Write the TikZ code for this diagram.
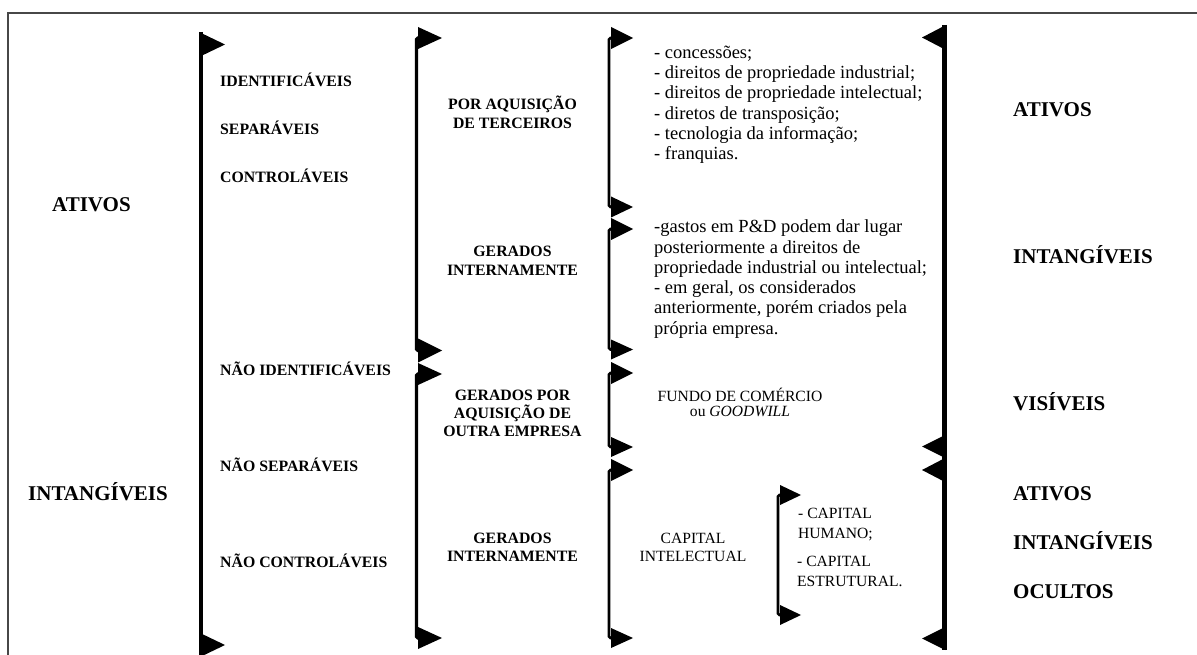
\documentclass[tikz,border=0pt]{standalone}
\usepackage{fontspec}
\setmainfont{Liberation Serif}
% stacked lines: first line's baseline is the box baseline
\newcommand\ctrlines[1]{\vtop{\halign{\hfil##\hfil\cr#1\crcr}}}
\newcommand\leftlines[1]{\vtop{\halign{##\hfil\cr#1\crcr}}}
% flag-shaped arrowheads: base x, tip y, length, half height
\newcommand\flagR[4]{\fill (#1,{#2-#4}) -- ({#1+#3},#2) -- (#1,{#2+#4}) -- cycle;}
\newcommand\flagL[4]{\fill (#1,{#2-#4}) -- ({#1-#3},#2) -- (#1,{#2+#4}) -- cycle;}
\begin{document}
\begin{tikzpicture}[x=1pt,y=-1pt,
  frame/.style={line width=1.6pt, draw=black!72},
  big/.style={inner sep=0pt, anchor=base west, font=\bfseries\fontsize{21}{24}\selectfont},
  crit/.style={inner sep=0pt, anchor=base west, font=\bfseries\fontsize{15.8}{18}\selectfont},
  origin/.style={inner sep=0pt, anchor=base, font=\bfseries\fontsize{15.8}{18.3}\selectfont},
  item/.style={inner sep=0pt, anchor=base west, font=\fontsize{18.5}{20.25}\selectfont},
  smallc/.style={inner sep=0pt, anchor=base, font=\fontsize{15.6}{15}\selectfont},
  smalll/.style={inner sep=0pt, anchor=base west, font=\fontsize{15.6}{20}\selectfont},
  thickbar/.style={line width=4.6pt},
  midbar/.style={line width=3.3pt, rounded corners=1.5pt},
  thinbar/.style={line width=2.6pt, rounded corners=1.5pt}]
\useasboundingbox (0,0) rectangle (1197,655);

% outer frame
\draw[frame] (8,655) -- (8,13) -- (1197,13);

% first bracket: ativos / intangiveis
\draw[thickbar] (201,32) -- (201,657);
\flagR{199}{44.5}{26}{12.5}
\flagR{199}{645}{26}{12.5}

% second column brackets
\draw[midbar] (419,38) -- (416.5,38) -- (416.5,350.5) -- (419,350.5);
\flagR{418}{38}{24}{11}
\flagR{418}{350.5}{24}{12}
\draw[midbar] (419,374) -- (416.5,374) -- (416.5,638) -- (419,638);
\flagR{418}{374}{24}{11}
\flagR{418}{638}{24}{11}

% third column brackets
\draw[thinbar] (612,38) -- (609,38) -- (609,207) -- (612,207);
\flagR{611}{38}{22}{11}
\flagR{611}{207}{22}{10.5}
\draw[thinbar] (612,229) -- (609,229) -- (609,349.5) -- (612,349.5);
\flagR{611}{229}{22}{11}
\flagR{611}{349.5}{22}{10}
\draw[thinbar] (612,373) -- (609,373) -- (609,447) -- (612,447);
\flagR{611}{373}{22}{11}
\flagR{611}{447}{22}{10}
\draw[thinbar] (612,470) -- (609,470) -- (609,638) -- (612,638);
\flagR{611}{470}{22}{11}
\flagR{611}{638}{22}{10}

% capital intelectual bracket
\draw[thinbar] (781,495) -- (778,495) -- (778,615) -- (781,615);
\flagR{780}{495}{21}{10}
\flagR{780}{615}{21}{10}

% right bracket
\draw[line width=5pt] (944.5,25) -- (944.5,650);
\flagL{945}{37.5}{23}{12}
\flagL{945}{446.5}{23}{11.5}
\flagL{945}{470}{23}{12}
\flagL{945}{638.5}{23}{11.5}

% left labels
\node[big] (ativos) at (52,212) {ATIVOS};
\node[big] (intang) at (28,500) {INTANGÍVEIS};

% criteria
\node[crit] (ident)   at (220,87)    {IDENTIFICÁVEIS};
\node[crit] (separ)   at (220,135)   {SEPARÁVEIS};
\node[crit] (contr)   at (220,183)   {CONTROLÁVEIS};
\node[crit] (nident)  at (220,375)   {NÃO IDENTIFICÁVEIS};
\node[crit] (nsepar)  at (220,471.7) {NÃO SEPARÁVEIS};
\node[crit] (ncontr)  at (220,567.3) {NÃO CONTROLÁVEIS};

% origin of the assets
\node[origin] (terc)  at (512.5,110)   {\ctrlines{POR AQUISIÇÃO\cr DE TERCEIROS}};
\node[origin] (ger1)  at (512.5,257)   {\ctrlines{GERADOS\cr INTERNAMENTE}};
\node[origin] (outra) at (512.5,400)   {\ctrlines{GERADOS POR\cr AQUISIÇÃO DE\cr OUTRA EMPRESA}};
\node[origin] (ger2)  at (512.5,543.3) {\ctrlines{GERADOS\cr INTERNAMENTE}};

% examples
\node[item] (lista) at (654,58.3) {\leftlines{- concessões;\cr
  - direitos de propriedade industrial;\cr
  - direitos de propriedade intelectual;\cr
  - diretos de transposição;\cr
  - tecnologia da informação;\cr
  - franquias.}};
\node[item] (gastos) at (654,233) {\leftlines{-gastos em P\&D podem dar lugar\cr
  posteriormente a direitos de\cr
  propriedade industrial ou intelectual;\cr
  - em geral, os considerados\cr
  anteriormente, porém criados pela\cr
  própria empresa.}};
\node[smallc] (fundo) at (740,401.7) {\ctrlines{FUNDO DE COMÉRCIO\cr ou \textit{GOODWILL}}};
\node[smallc, font=\fontsize{15.6}{18}\selectfont] (capint) at (693,543) {\ctrlines{CAPITAL\cr INTELECTUAL}};
\node[smalll] (humano) at (798,518.3) {\leftlines{- CAPITAL\cr HUMANO;}};
\node[smalll] (estrut) at (797,566.7) {\leftlines{- CAPITAL\cr ESTRUTURAL.}};

% right labels
\node[big] (r1) at (1013,116.7) {ATIVOS};
\node[big] (r2) at (1013,263.3) {INTANGÍVEIS};
\node[big] (r3) at (1013,410.7) {VISÍVEIS};
\node[big] (r4) at (1013,500)   {ATIVOS};
\node[big] (r5) at (1013,549.3) {INTANGÍVEIS};
\node[big] (r6) at (1013,598.3) {OCULTOS};
\end{tikzpicture}
\end{document}
